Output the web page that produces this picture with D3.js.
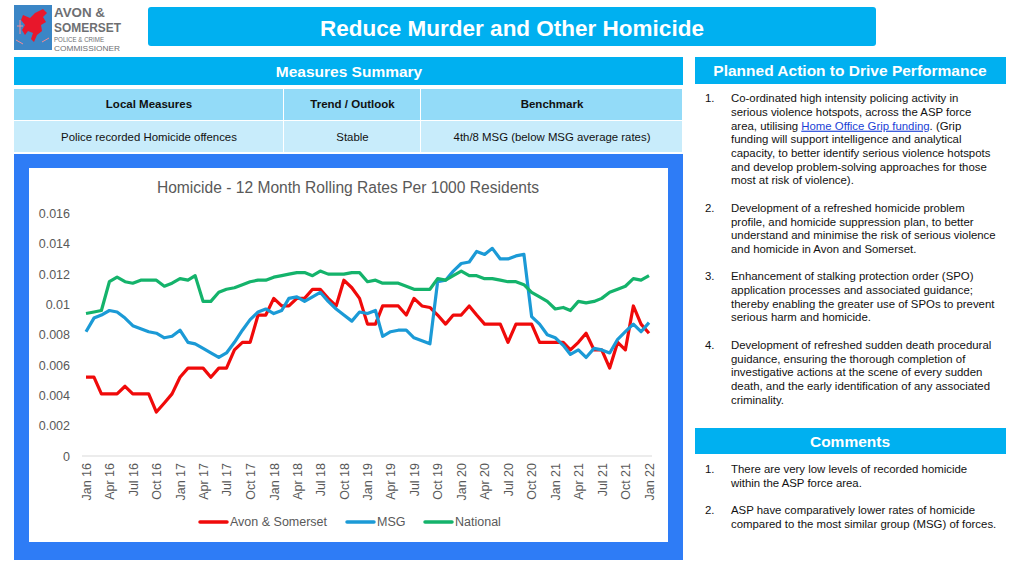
<!DOCTYPE html>
<html>
<head>
<meta charset="utf-8">
<script src="https://cdn.jsdelivr.net/npm/d3@7"></script>
<style>
  body { margin: 0; background: #fff; }
  svg { display: block; font-family: "Liberation Sans", Arial, sans-serif; }
</style>
</head>
<body>
<svg id="page" width="1024" height="576"></svg>
<script>
// monthly points, Jan 2016 .. Jan 2022
const startMonth = new Date(2016, 0, 1);
const tickLabels = ['Jan 16', 'Apr 16', 'Jul 16', 'Oct 16', 'Jan 17', 'Apr 17', 'Jul 17', 'Oct 17',
  'Jan 18', 'Apr 18', 'Jul 18', 'Oct 18', 'Jan 19', 'Apr 19', 'Jul 19', 'Oct 19',
  'Jan 20', 'Apr 20', 'Jul 20', 'Oct 20', 'Jan 21', 'Apr 21', 'Jul 21', 'Oct 21', 'Jan 22'];
const yTicks = [0, 0.002, 0.004, 0.006, 0.008, 0.01, 0.012, 0.014, 0.016];

const avonSomerset = [
  0.0052, 0.0052, 0.0041, 0.0041, 0.0041, 0.0046, 0.0041, 0.0041, 0.0041, 0.0029, 0.0035, 0.0041,
  0.0052, 0.0058, 0.0058, 0.0058, 0.0052, 0.0058, 0.0058, 0.0070, 0.0075, 0.0075, 0.0093, 0.0093,
  0.0104, 0.0099, 0.0099, 0.0104, 0.0104, 0.0110, 0.0110, 0.0104, 0.0099, 0.0116, 0.0111, 0.0104,
  0.0087, 0.0087, 0.0099, 0.0099, 0.0099, 0.0093, 0.0104, 0.0099, 0.0098, 0.0093, 0.0087, 0.0093,
  0.0093, 0.0099, 0.0093, 0.0087, 0.0087, 0.0087, 0.0075, 0.0087, 0.0087, 0.0087, 0.0075, 0.0075,
  0.0075, 0.0075, 0.0070, 0.0075, 0.0081, 0.0070, 0.0070, 0.0058, 0.0075, 0.0070, 0.0099, 0.0087,
  0.0081
];
const msg = [
  0.0082, 0.0091, 0.0093, 0.0096, 0.0095, 0.0091, 0.0086, 0.0084, 0.0082, 0.0081, 0.0078, 0.0079,
  0.0083, 0.0075, 0.0074, 0.0071, 0.0068, 0.0065, 0.0068, 0.0075, 0.0083, 0.0090, 0.0095, 0.0097,
  0.0094, 0.0096, 0.0104, 0.0105, 0.0102, 0.0105, 0.0108, 0.0102, 0.0097, 0.0093, 0.0089, 0.0095,
  0.0094, 0.0096, 0.0079, 0.0082, 0.0083, 0.0083, 0.0078, 0.0076, 0.0074, 0.0115, 0.0116, 0.0122,
  0.0127, 0.0128, 0.0135, 0.0133, 0.0137, 0.0130, 0.0130, 0.0132, 0.0133, 0.0092, 0.0087, 0.0080,
  0.0078, 0.0073, 0.0067, 0.0070, 0.0065, 0.0071, 0.0070, 0.0068, 0.0077, 0.0082, 0.0087, 0.0082,
  0.0088
];
const national = [
  0.0094, 0.0095, 0.0096, 0.0115, 0.0118, 0.0115, 0.0114, 0.0116, 0.0116, 0.0116, 0.0112, 0.0114,
  0.0117, 0.0116, 0.0119, 0.0102, 0.0102, 0.0108, 0.0110, 0.0111, 0.0113, 0.0115, 0.0116, 0.0116,
  0.0118, 0.0119, 0.0120, 0.0121, 0.0121, 0.0119, 0.0122, 0.0120, 0.0120, 0.0120, 0.0121, 0.0121,
  0.0115, 0.0116, 0.0114, 0.0114, 0.0114, 0.0112, 0.0110, 0.0110, 0.0110, 0.0117, 0.0116, 0.0119,
  0.0122, 0.0119, 0.0119, 0.0117, 0.0117, 0.0116, 0.0115, 0.0115, 0.0113, 0.0108, 0.0105, 0.0102,
  0.0097, 0.0098, 0.0096, 0.0102, 0.0101, 0.0102, 0.0104, 0.0108, 0.0110, 0.0112, 0.0117, 0.0116,
  0.0119
];
const seriesNames = ['Avon & Somerset', 'MSG', 'National'];
const seriesColors = ['#f00a0a', '#1b9ad6', '#14b36b'];

const tableHead = ['Local Measures', 'Trend / Outlook', 'Benchmark'];
const tableRow = ['Police recorded Homicide offences', 'Stable', '4th/8 MSG (below MSG average rates)'];

const plannedActions = [
  ['Co-ordinated high intensity policing activity in', 'serious violence hotspots, across the ASP force',
   'area, utilising {Home Office Grip funding}. (Grip', 'funding will support intelligence and analytical',
   'capacity, to better identify serious violence hotspots', 'and develop problem-solving approaches for those',
   'most at risk of violence).'],
  ['Development of a refreshed homicide problem', 'profile, and homicide suppression plan, to better',
   'understand and minimise the risk of serious violence', 'and homicide in Avon and Somerset.'],
  ['Enhancement of stalking protection order (SPO)', 'application processes and associated guidance;',
   'thereby enabling the greater use of SPOs to prevent', 'serious harm and homicide.'],
  ['Development of refreshed sudden death procedural', 'guidance, ensuring the thorough completion of',
   'investigative actions at the scene of every sudden', 'death, and the early identification of any associated',
   'criminality.']
];
const comments = [
  ['There are very low levels of recorded homicide', 'within the ASP force area.'],
  ['ASP have comparatively lower rates of homicide', 'compared to the most similar group (MSG) of forces.']
];

const svg = d3.select('#page');
const cyan = '#00b0f0';

// ---- logo
const logo = svg.append('g');
logo.append('rect').attr('x', 14).attr('y', 5).attr('width', 38).attr('height', 45).attr('fill', '#3b86c6');
logo.append('path')
  .attr('d', 'M23,15 L30,18 L35,13 L43,9 L47,13 L43,17 L46,22 L41,25 L42,31 L37,35 L34,42 L31,39 L33,33 L28,31 L25,35 L22,30 L25,25 L21,20 Z')
  .attr('fill', '#e8172b');
logo.append('path')
  .attr('d', 'M17,26 l6,0 M20,20 l0,14 M16,40 l7,4 M42,42 l7,-4')
  .attr('stroke', '#f28b96').attr('stroke-width', 1).attr('fill', 'none');
const logoText = [
  { t: 'AVON &', y: 17, size: 13, w: 51, weight: 600 },
  { t: 'SOMERSET', y: 32, size: 13, w: 67, weight: 600 },
  { t: 'POLICE & CRIME', y: 42, size: 7.5, w: 50, weight: 400 },
  { t: 'COMMISSIONER', y: 51, size: 7.5, w: 66, weight: 400 }
];
logo.selectAll('text.logo').data(logoText).enter().append('text')
  .attr('x', 54).attr('y', d => d.y)
  .attr('font-size', d => d.size).attr('font-weight', d => d.weight)
  .attr('fill', '#6e6f72')
  .attr('textLength', d => d.w).attr('lengthAdjust', 'spacingAndGlyphs')
  .text(d => d.t);

// ---- title bar
svg.append('rect').attr('x', 148).attr('y', 7).attr('width', 728).attr('height', 39).attr('rx', 3).attr('fill', cyan);
svg.append('text').attr('x', 512).attr('y', 28).attr('dy', '0.35em')
  .attr('text-anchor', 'middle').attr('font-size', 22.5).attr('font-weight', 'bold').attr('fill', '#fff')
  .text('Reduce Murder and Other Homicide');

// ---- measures table
svg.append('rect').attr('x', 14).attr('y', 57).attr('width', 669).attr('height', 28).attr('fill', cyan);
svg.append('text').attr('x', 349).attr('y', 72).attr('dy', '0.35em').attr('text-anchor', 'middle')
  .attr('font-size', 15.5).attr('font-weight', 'bold').attr('fill', '#fff').text('Measures Summary');

const colX = [14, 284, 421, 683];
[0, 1, 2].forEach(c => {
  svg.append('rect').attr('x', colX[c]).attr('y', 89).attr('width', colX[c + 1] - colX[c] - 1).attr('height', 31).attr('fill', '#93dbf8');
  svg.append('rect').attr('x', colX[c]).attr('y', 121).attr('width', colX[c + 1] - colX[c] - 1).attr('height', 31).attr('fill', '#c8ecfb');
  const cx = (colX[c] + colX[c + 1]) / 2;
  svg.append('text').attr('x', cx).attr('y', 104).attr('dy', '0.35em').attr('text-anchor', 'middle')
    .attr('font-size', 11.5).attr('font-weight', 'bold').attr('fill', '#111').text(tableHead[c]);
  svg.append('text').attr('x', cx).attr('y', 137).attr('dy', '0.35em').attr('text-anchor', 'middle')
    .attr('font-size', 11.4).attr('fill', '#111').text(tableRow[c]);
});

// ---- chart box
svg.append('rect').attr('x', 14).attr('y', 154).attr('width', 669).attr('height', 406).attr('fill', '#2e7cf6');
svg.append('rect').attr('x', 29).attr('y', 168).attr('width', 639).attr('height', 374).attr('fill', '#fff');

svg.append('text').attr('x', 348).attr('y', 188).attr('dy', '0.35em').attr('text-anchor', 'middle')
  .attr('font-size', 15.6).attr('fill', '#595959').text('Homicide - 12 Month Rolling Rates Per 1000 Residents');

const months = d3.range(avonSomerset.length).map(i => d3.timeMonth.offset(startMonth, i));
const x = d3.scaleTime().domain(d3.extent(months)).range([86, 649]);
const y = d3.scaleLinear().domain([0, 0.016]).range([456, 213.5]);

// baseline
svg.append('line').attr('x1', 82).attr('x2', 652).attr('y1', y(0)).attr('y2', y(0))
  .attr('stroke', '#d9d9d9').attr('stroke-width', 1.2);

const yAxis = svg.append('g').attr('transform', 'translate(79,0)')
  .call(d3.axisLeft(y).tickValues(yTicks).tickSize(0).tickPadding(9)
    .tickFormat(d => d === 0 ? '0' : String(+d.toFixed(3))));
yAxis.select('.domain').remove();
yAxis.selectAll('text').attr('font-size', 12.5).attr('fill', '#595959')
  .attr('font-family', '"Liberation Sans", Arial, sans-serif');

const tickDates = tickLabels.map((t, i) => d3.timeMonth.offset(startMonth, i * 3));
const xAxis = svg.append('g').attr('transform', `translate(0,${y(0)})`)
  .call(d3.axisBottom(x).tickValues(tickDates).tickSize(0).tickFormat((d, i) => tickLabels[i]));
xAxis.select('.domain').remove();
xAxis.selectAll('text')
  .attr('font-size', 12.5).attr('fill', '#595959')
  .attr('font-family', '"Liberation Sans", Arial, sans-serif')
  .attr('text-anchor', 'end')
  .attr('transform', 'rotate(-90)')
  .attr('x', -7).attr('y', 0).attr('dy', '0.35em');

const line = d3.line().x((d, i) => x(months[i])).y(d => y(d));
[avonSomerset, msg, national].forEach((s, k) => {
  svg.append('path').datum(s)
    .attr('fill', 'none').attr('stroke', seriesColors[k]).attr('stroke-width', 3.2)
    .attr('stroke-linejoin', 'round')
    .attr('d', line);
});

// legend
const legendX = [200, 347, 425];
seriesNames.forEach((n, k) => {
  svg.append('line').attr('x1', legendX[k]).attr('x2', legendX[k] + 27).attr('y1', 522).attr('y2', 522)
    .attr('stroke', seriesColors[k]).attr('stroke-width', 3.5).attr('stroke-linecap', 'round');
  svg.append('text').attr('x', legendX[k] + 30).attr('y', 522).attr('dy', '0.35em')
    .attr('font-size', 12.5).attr('fill', '#595959').text(n);
});

// ---- right panel
function listBlock(items, startY, gap) {
  let yy = startY;
  items.forEach((lines, k) => {
    svg.append('text').attr('x', 705).attr('y', yy).attr('dy', '0.35em')
      .attr('font-size', 11.4).attr('fill', '#111').text((k + 1) + '.');
    lines.forEach(l => {
      const t = svg.append('text').attr('x', 731).attr('y', yy).attr('dy', '0.35em')
        .attr('font-size', 11.4).attr('fill', '#111');
      const m = l.match(/^(.*)\{(.*)\}(.*)$/);
      if (m) {
        t.append('tspan').text(m[1]);
        t.append('tspan').attr('fill', '#1a3fd6').attr('text-decoration', 'underline').text(m[2]);
        t.append('tspan').text(m[3]);
      } else {
        t.text(l);
      }
      yy += 13.7;
    });
    yy += gap;
  });
}

svg.append('rect').attr('x', 695).attr('y', 57).attr('width', 311).attr('height', 27).attr('fill', cyan);
svg.append('text').attr('x', 850).attr('y', 71).attr('dy', '0.35em').attr('text-anchor', 'middle')
  .attr('font-size', 15.5).attr('font-weight', 'bold').attr('fill', '#fff').text('Planned Action to Drive Performance');
listBlock(plannedActions, 98.3, 13.7);

svg.append('rect').attr('x', 695).attr('y', 428).attr('width', 311).attr('height', 26).attr('fill', cyan);
svg.append('text').attr('x', 850).attr('y', 442).attr('dy', '0.35em').attr('text-anchor', 'middle')
  .attr('font-size', 15.5).attr('font-weight', 'bold').attr('fill', '#fff').text('Comments');
listBlock(comments, 469.3, 13.7);
</script>
</body>
</html>
